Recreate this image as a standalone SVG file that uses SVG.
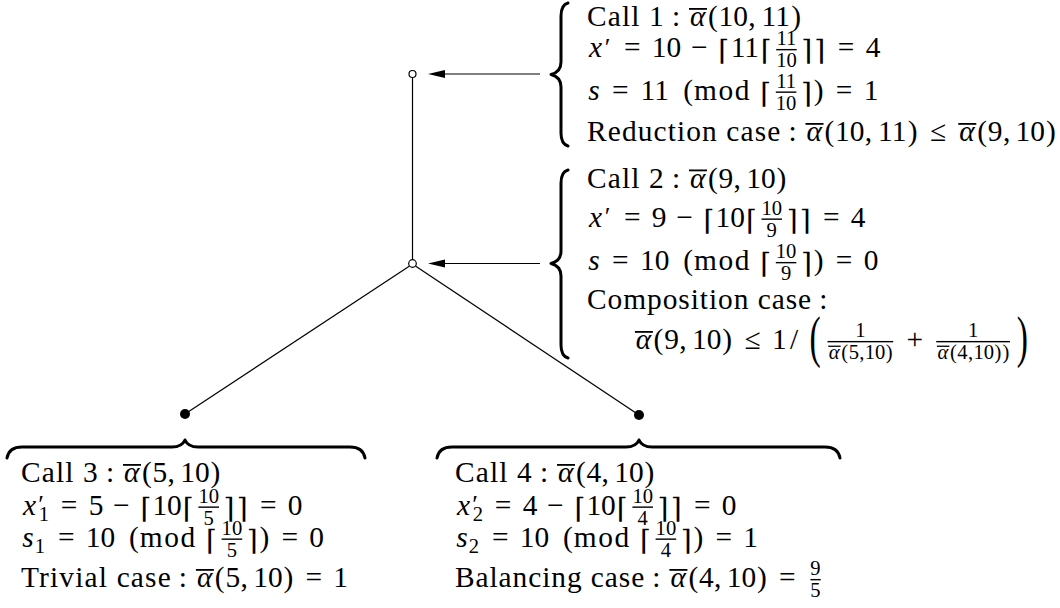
<svg xmlns="http://www.w3.org/2000/svg" width="1060" height="608" viewBox="0 0 1060 608" font-family="'Liberation Serif', serif">
<defs>
<style>
.r{font-family:'Liberation Serif','Times New Roman','Nimbus Roman','Tinos',serif;font-size:29.4px;fill:#000}
.m{text-anchor:middle}
.i{font-style:italic}
.s{font-size:20.6px}
.p{font-size:26px}
.bp{font-size:56px}
.c{font-family:'DejaVu Serif','Liberation Serif',serif;font-size:28px}
.ln{stroke:#000;stroke-width:1.2;fill:none}
.br{stroke:#000;stroke-width:3;fill:none;stroke-linecap:round;stroke-linejoin:round}
</style>
</defs>
<rect width="1060" height="608" fill="#fff"/>
<g id="connectors">
<line class="ln" x1="412.5" y1="77.5" x2="412.5" y2="259.5"/>
<line class="ln" x1="409.6" y1="266" x2="185" y2="414"/>
<line class="ln" x1="415.4" y1="266" x2="639" y2="415"/>
<line class="ln" x1="540" y1="74" x2="440" y2="74"/>
<polygon points="428,74 445,70 445,78" fill="#000"/>
<line class="ln" x1="540" y1="263.5" x2="440" y2="263.5"/>
<polygon points="428,263.5 445,259.5 445,267.5" fill="#000"/>
</g>
<g id="node-1"><circle cx="412.5" cy="74" r="3.5" fill="#fff" stroke="#000" stroke-width="1.2"/></g>
<g id="node-2"><circle cx="412.5" cy="263.5" r="3.8" fill="#fff" stroke="#000" stroke-width="1.2"/></g>
<g id="node-3"><circle cx="185" cy="414" r="5" fill="#000"/></g>
<g id="node-4"><circle cx="639" cy="415" r="5" fill="#000"/></g>

<g id="label-1">
<path class="br" d="M568,3 Q561,5 561,16 L561,62 Q561,72 551,74.5 Q561,77 561,87 L561,133 Q561,144 568,146"/>
<text class="r" x="587" y="26" textLength="76.8" lengthAdjust="spacing">Call 1</text>
<text class="r m" y="26"><tspan x="676">:</tspan><tspan class="i" x="697.7">α</tspan><tspan x="712.8">(</tspan><tspan x="733.2">10</tspan><tspan x="752">,</tspan><tspan x="775.7">11</tspan><tspan x="796.2">)</tspan></text>
<rect x="689" y="8" width="18" height="1.8"/>
<text class="r m" y="57"><tspan class="i" x="595.4">x</tspan><tspan class="p" x="607.6" y="55.6">′</tspan><tspan x="632.2" y="57">=</tspan><tspan x="666.5">10</tspan><tspan x="699.2">−</tspan><tspan class="c" x="723.7" y="60">⌈</tspan><tspan x="744.9" y="57">11</tspan><tspan class="c" x="766.1" y="60">⌈</tspan><tspan class="s" x="786.5" y="45.4">11</tspan><tspan class="s" x="786.5" y="67.1">10</tspan><tspan class="c" x="806.8" y="60">⌉</tspan><tspan class="c" x="819.8">⌉</tspan><tspan x="846" y="57">=</tspan><tspan x="873">4</tspan></text>
<rect x="776.2" y="48.95" width="20.5" height="1.4"/>
<text class="r" x="693.9" y="99.5" textLength="55.5" lengthAdjust="spacing">mod</text>
<text class="r m" y="99.5"><tspan class="i" x="593.9">s</tspan><tspan x="620.4">=</tspan><tspan x="654.7">11</tspan><tspan x="688.2">(</tspan><tspan class="c" x="765.8" y="102.5">⌈</tspan><tspan class="s" x="786.1" y="87.9">11</tspan><tspan class="s" x="786.1" y="109.6">10</tspan><tspan class="c" x="806.4" y="102.5">⌉</tspan><tspan x="818.7" y="99.5">)</tspan><tspan x="844">=</tspan><tspan x="871">1</tspan></text>
<rect x="775.8" y="91.45" width="20.6" height="1.4"/>
<text class="r" x="587" y="141" textLength="193.3" lengthAdjust="spacing">Reduction case</text>
<text class="r m" y="141"><tspan x="792.5">:</tspan><tspan class="i" x="814.2">α</tspan><tspan x="829.3">(</tspan><tspan x="849.7">10</tspan><tspan x="868.5">,</tspan><tspan x="892.2">11</tspan><tspan x="912.7">)</tspan><tspan x="938">≤</tspan><tspan class="i" x="967">α</tspan><tspan x="982.1">(</tspan><tspan x="995.2">9</tspan><tspan x="1006.6">,</tspan><tspan x="1030.3">10</tspan><tspan x="1050.8">)</tspan></text>
<rect x="805.5" y="123" width="18" height="1.8"/><rect x="958.3" y="123" width="18" height="1.8"/>
</g>

<g id="label-2">
<path class="br" d="M568,170 Q561,172 561,183 L561,251 Q561,261 551,263.5 Q561,266 561,276 L561,345 Q561,356 568,358"/>
<text class="r" x="587" y="187.5" textLength="76.8" lengthAdjust="spacing">Call 2</text>
<text class="r m" y="187.5"><tspan x="676">:</tspan><tspan class="i" x="697.7">α</tspan><tspan x="712.8">(</tspan><tspan x="725.9">9</tspan><tspan x="737.3">,</tspan><tspan x="761">10</tspan><tspan x="781.5">)</tspan></text>
<rect x="689" y="169.5" width="18" height="1.8"/>
<text class="r m" y="226.5"><tspan class="i" x="595.4">x</tspan><tspan class="p" x="607.6" y="225.1">′</tspan><tspan x="632.2" y="226.5">=</tspan><tspan x="659.1">9</tspan><tspan x="684.5">−</tspan><tspan class="c" x="709" y="229.5">⌈</tspan><tspan x="730.2" y="226.5">10</tspan><tspan class="c" x="751.4" y="229.5">⌈</tspan><tspan class="s" x="771.7" y="214.9">10</tspan><tspan class="s" x="771.7" y="236.6">9</tspan><tspan class="c" x="792.1" y="229.5">⌉</tspan><tspan class="c" x="805.1">⌉</tspan><tspan x="831.3" y="226.5">=</tspan><tspan x="858.2">4</tspan></text>
<rect x="761.5" y="218.45" width="20.5" height="1.4"/>
<text class="r" x="693.9" y="270" textLength="55.5" lengthAdjust="spacing">mod</text>
<text class="r m" y="270"><tspan class="i" x="593.9">s</tspan><tspan x="620.4">=</tspan><tspan x="654.7">10</tspan><tspan x="688.2">(</tspan><tspan class="c" x="765.8" y="273">⌈</tspan><tspan class="s" x="786.1" y="258.4">10</tspan><tspan class="s" x="786.1" y="280.1">9</tspan><tspan class="c" x="806.4" y="273">⌉</tspan><tspan x="818.7" y="270">)</tspan><tspan x="844">=</tspan><tspan x="871">0</tspan></text>
<rect x="775.8" y="261.95" width="20.6" height="1.4"/>
<text class="r" x="587" y="308.5" textLength="224.1" lengthAdjust="spacing">Composition case</text>
<text class="r m" x="823.3" y="308.5">:</text>
<text class="r m" y="349"><tspan class="i" x="643.4">α</tspan><tspan x="658.5">(</tspan><tspan x="671.6">9</tspan><tspan x="683">,</tspan><tspan x="706.7">10</tspan><tspan x="727.2">)</tspan><tspan x="752.5">≤</tspan><tspan x="779.4">1</tspan><tspan x="794.1">/</tspan><tspan x="914.7">+</tspan><tspan class="s" x="860.4" y="337.4">1</tspan><tspan class="s" x="973.1">1</tspan><tspan class="s i" x="834.1" y="359.1">α</tspan><tspan class="s" x="844.7">(</tspan><tspan class="s" x="853.8">5</tspan><tspan class="s" x="861.8">,</tspan><tspan class="s" x="875">10</tspan><tspan class="s" x="889.2">)</tspan><tspan class="s i" x="942.8">α</tspan><tspan class="s" x="953.4">(</tspan><tspan class="s" x="962.5">4</tspan><tspan class="s" x="970.5">,</tspan><tspan class="s" x="983.7">10</tspan><tspan class="s" x="997.9">)</tspan><tspan class="s" x="1006">)</tspan></text>
<rect x="634.9" y="331" width="18" height="1.8"/>
<text class="r bp m" transform="translate(815.2 356.1) scale(0.6 1)">(</text>
<text class="r bp m" transform="translate(1022.4 356.1) scale(0.6 1)">)</text>
<rect x="827.5" y="340.95" width="65.7" height="1.4"/>
<rect x="828.2" y="345.6" width="12.5" height="1.3"/>
<rect x="936.2" y="340.95" width="73.8" height="1.4"/>
<rect x="936.9" y="345.6" width="12.5" height="1.3"/>
</g>

<g id="label-3">
<path class="br" d="M7,458 Q9,447 22,447 L172,447 Q182,447 185,440 Q188,447 198,447 L350,447 Q363,447 365,458"/>
<text class="r" x="21" y="482" textLength="76.8" lengthAdjust="spacing">Call 3</text>
<text class="r m" y="482"><tspan x="110">:</tspan><tspan class="i" x="131.7">α</tspan><tspan x="146.8">(</tspan><tspan x="159.9">5</tspan><tspan x="171.3">,</tspan><tspan x="195">10</tspan><tspan x="215.5">)</tspan></text>
<rect x="123" y="464" width="18" height="1.8"/>
<text class="r m" y="514.5"><tspan class="i" x="29.4">x</tspan><tspan class="p" x="41" y="512.5">′</tspan><tspan class="s" x="44" y="521">1</tspan><tspan x="69.1" y="514.5">=</tspan><tspan x="96.1">5</tspan><tspan x="121.4">−</tspan><tspan class="c" x="145.9" y="517.5">⌈</tspan><tspan x="167.1" y="514.5">10</tspan><tspan class="c" x="188.3" y="517.5">⌈</tspan><tspan class="s" x="208.7" y="502.9">10</tspan><tspan class="s" x="208.7" y="524.6">5</tspan><tspan class="c" x="229" y="517.5">⌉</tspan><tspan class="c" x="242.1">⌉</tspan><tspan x="268.2" y="514.5">=</tspan><tspan x="295.2">0</tspan></text>
<rect x="198.4" y="506.45" width="20.6" height="1.4"/>
<text class="r" x="139.7" y="546.5" textLength="55.5" lengthAdjust="spacing">mod</text>
<text class="r m" y="546.5"><tspan class="i" x="27.9">s</tspan><tspan class="s" x="39.9" y="552.7">1</tspan><tspan x="66.2" y="546.5">=</tspan><tspan x="100.5">10</tspan><tspan x="134">(</tspan><tspan class="c" x="211.5" y="549.5">⌈</tspan><tspan class="s" x="231.9" y="534.9">10</tspan><tspan class="s" x="231.9" y="556.6">5</tspan><tspan class="c" x="252.2" y="549.5">⌉</tspan><tspan x="264.5" y="546.5">)</tspan><tspan x="289.8">=</tspan><tspan x="316.7">0</tspan></text>
<rect x="221.6" y="538.45" width="20.6" height="1.4"/>
<text class="r" x="21" y="587" textLength="149.7" lengthAdjust="spacing">Trivial case</text>
<text class="r m" y="587"><tspan x="182.9">:</tspan><tspan class="i" x="204.6">α</tspan><tspan x="219.7">(</tspan><tspan x="232.8">5</tspan><tspan x="244.2">,</tspan><tspan x="267.9">10</tspan><tspan x="288.4">)</tspan><tspan x="313.7">=</tspan><tspan x="340.6">1</tspan></text>
<rect x="195.9" y="569" width="18" height="1.8"/>
</g>

<g id="label-4">
<path class="br" d="M437,458 Q439,447 452,447 L626,447 Q636,447 639,440 Q642,447 652,447 L825,447 Q838,447 840,458"/>
<text class="r" x="455" y="482" textLength="76.8" lengthAdjust="spacing">Call 4</text>
<text class="r m" y="482"><tspan x="544">:</tspan><tspan class="i" x="565.7">α</tspan><tspan x="580.8">(</tspan><tspan x="593.9">4</tspan><tspan x="605.3">,</tspan><tspan x="629">10</tspan><tspan x="649.5">)</tspan></text>
<rect x="557" y="464" width="18" height="1.8"/>
<text class="r m" y="514.5"><tspan class="i" x="463.4">x</tspan><tspan class="p" x="475" y="512.5">′</tspan><tspan class="s" x="478" y="521">2</tspan><tspan x="503.1" y="514.5">=</tspan><tspan x="530.1">4</tspan><tspan x="555.4">−</tspan><tspan class="c" x="579.9" y="517.5">⌈</tspan><tspan x="601.1" y="514.5">10</tspan><tspan class="c" x="622.3" y="517.5">⌈</tspan><tspan class="s" x="642.7" y="502.9">10</tspan><tspan class="s" x="642.7" y="524.6">4</tspan><tspan class="c" x="663" y="517.5">⌉</tspan><tspan class="c" x="676.1">⌉</tspan><tspan x="702.2" y="514.5">=</tspan><tspan x="729.2">0</tspan></text>
<rect x="632.4" y="506.45" width="20.6" height="1.4"/>
<text class="r" x="573.7" y="546.5" textLength="55.5" lengthAdjust="spacing">mod</text>
<text class="r m" y="546.5"><tspan class="i" x="461.9">s</tspan><tspan class="s" x="473.9" y="552.7">2</tspan><tspan x="500.2" y="546.5">=</tspan><tspan x="534.5">10</tspan><tspan x="568">(</tspan><tspan class="c" x="645.5" y="549.5">⌈</tspan><tspan class="s" x="665.9" y="534.9">10</tspan><tspan class="s" x="665.9" y="556.6">4</tspan><tspan class="c" x="686.2" y="549.5">⌉</tspan><tspan x="698.5" y="546.5">)</tspan><tspan x="723.8">=</tspan><tspan x="750.7">1</tspan></text>
<rect x="655.6" y="538.45" width="20.6" height="1.4"/>
<text class="r" x="455" y="587" textLength="189.2" lengthAdjust="spacing">Balancing case</text>
<text class="r m" y="587"><tspan x="656.4">:</tspan><tspan class="i" x="678.1">α</tspan><tspan x="693.3">(</tspan><tspan x="706.3">4</tspan><tspan x="717.7">,</tspan><tspan x="741.4">10</tspan><tspan x="761.9">)</tspan><tspan x="787.2">=</tspan><tspan class="s" x="815.5" y="575.4">9</tspan><tspan class="s" x="815.5" y="597.1">5</tspan></text>
<rect x="669.4" y="569" width="18" height="1.8"/>
<rect x="810.4" y="578.95" width="10.3" height="1.4"/>
</g>
</svg>
